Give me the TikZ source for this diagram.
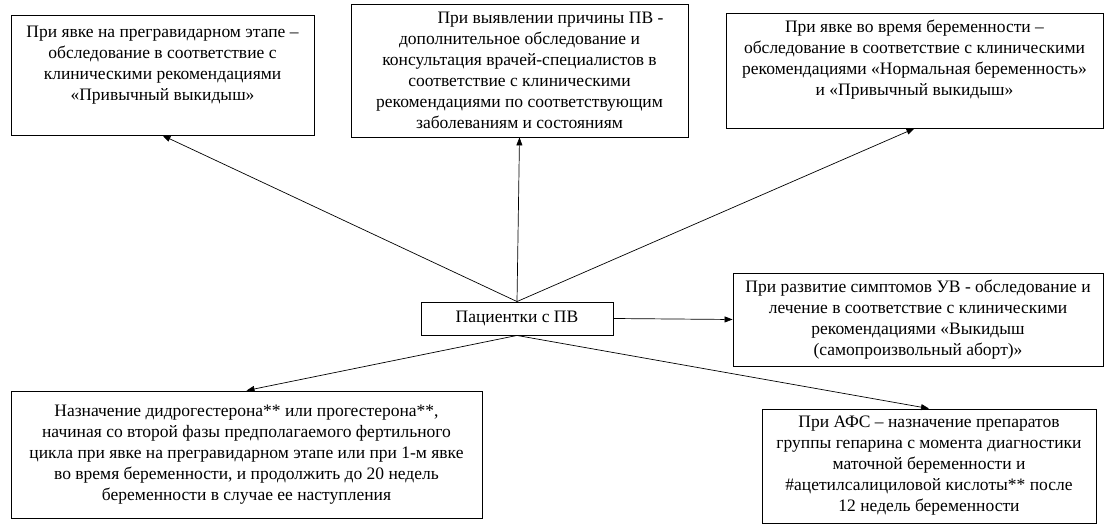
\documentclass[tikz,border=0pt]{standalone}
\usepackage{fontspec}
\setmainfont{Liberation Serif}
\usetikzlibrary{arrows.meta, positioning}

\begin{document}
\begin{tikzpicture}[
    x=1pt, y=-1pt,
    box/.style={
        rectangle, draw, line width=0.9pt,
        align=center, inner sep=5pt,
        font=\fontsize{17.5pt}{21pt}\selectfont
    },
    arrow/.style={-{Triangle[length=8pt, width=6pt]}, line width=0.7pt}
]
\useasboundingbox (0,0) rectangle (1116,532);

% Centre box
\node[box, minimum width=192pt, minimum height=33pt] (pv) at (517, 318.5) {Пациентки с ПВ};

% Top row
\node[box, minimum width=303pt, minimum height=120pt, text depth=24pt] (pregrav) at (162.5, 75)
    {При явке на прегравидарном этапе –\\обследование в соответствие с\\клиническими рекомендациями\\«Привычный выкидыш»};
\node[box, minimum width=337pt, minimum height=133pt] (cause) at (519.5, 70.5)
    {\hspace*{62pt}При выявлении причины ПВ -\\дополнительное обследование и\\консультация врачей-специалистов в\\соответствие с клиническими\\рекомендациями по соответствующим\\заболеваниям и состояниям};
\node[box, minimum width=377pt, minimum height=115pt, text depth=26pt] (pregn) at (914.5, 70.5)
    {При явке во время беременности –\\обследование в соответствие с клиническими\\рекомендациями «Нормальная беременность»\\и «Привычный выкидыш»};

% Right box
\node[box, minimum width=370pt, minimum height=93pt] (symp) at (918, 319.5)
    {При развитие симптомов УВ - обследование и\\лечение в соответствие с клиническими\\рекомендациями «Выкидыш\\(самопроизвольный аборт)»};

% Bottom row
\node[box, minimum width=471pt, minimum height=127pt] (drug) at (246.5, 454.5)
    {Назначение дидрогестерона** или прогестерона**,\\начиная со второй фазы предполагаемого фертильного\\цикла при явке на прегравидарном этапе или при 1-м явке\\во время беременности, и продолжить до 20 недель\\беременности в случае ее наступления};
\node[box, minimum width=334pt, minimum height=114pt] (aps) at (929, 466)
    {При АФС – назначение препаратов\\группы гепарина с момента диагностики\\маточной беременности и\\\#ацетилсалициловой кислоты** после\\12 недель беременности};

% Arrows up
\draw[arrow] (pv.north) -- (pregrav.south);
\draw[arrow] (pv.north) -- (cause.south);
\draw[arrow] (pv.north) -- (pregn.south);

% Arrow right
\draw[arrow] (pv.east) -- (symp.west);

% Arrows down
\draw[arrow] (pv.south) -- (drug.north);
\draw[arrow] (pv.south) -- (aps.north);

\end{tikzpicture}
\end{document}
